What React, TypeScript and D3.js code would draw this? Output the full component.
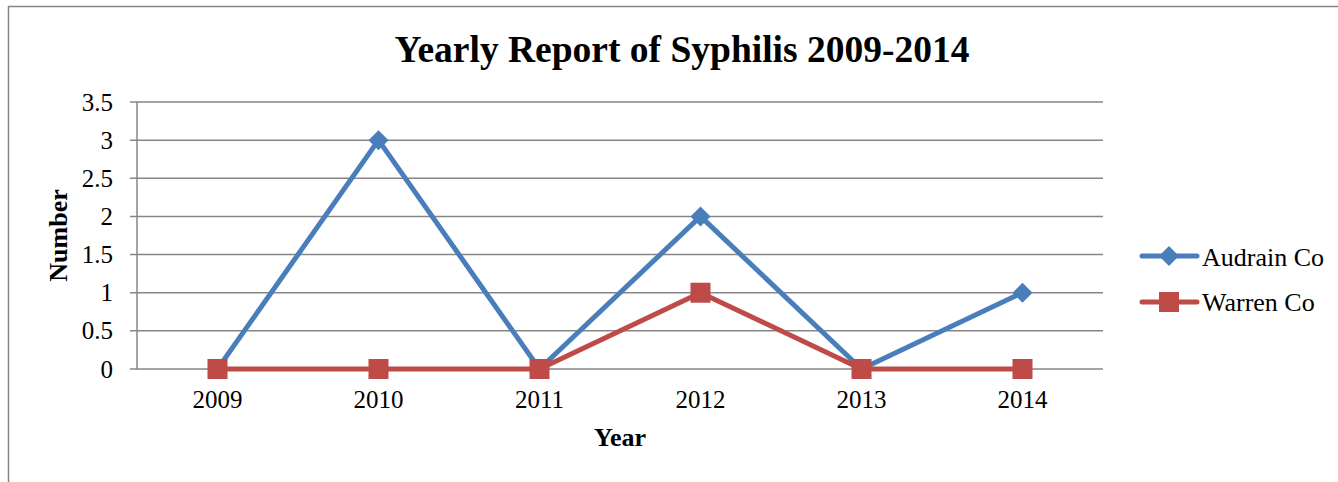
import React from "react";
import * as d3 from "d3";

const years = ["2009", "2010", "2011", "2012", "2013", "2014"];
const audrain = [0, 3, 0, 2, 0, 1];
const warren = [0, 0, 0, 1, 0, 0];
const yTicks = [0, 0.5, 1, 1.5, 2, 2.5, 3, 3.5];
const yTickLabels = ["0", "0.5", "1", "1.5", "2", "2.5", "3", "3.5"];

const BLUE = "#4a7ebb";
const RED = "#be4b48";
const GRID = "#868686";
const FONT = "'Liberation Serif', 'Times New Roman', serif";

export default function App() {
  const W = 1338, H = 482;
  const left = 137, right = 1103, top = 102, bottom = 369;
  const x = d3.scaleBand<string>().domain(years).range([left, right]);
  const y = d3.scaleLinear().domain([0, 3.5]).range([bottom, top]);
  const cx = (d: string) => (x(d) as number) + x.bandwidth() / 2;
  const line = d3.line<number>().x((_, i) => cx(years[i])).y((v) => y(v));

  const diamond = (px: number, py: number, r: number) =>
    `M${px},${py - r}L${px + r},${py}L${px},${py + r}L${px - r},${py}Z`;

  return (
    <svg width={W} height={H} style={{ position: "absolute", left: 0, top: 0 }} fontFamily={FONT}>
      <rect x={0} y={0} width={W} height={H} fill="#fff" />
      <path d={`M8.5,${H}V6.5H${W}`} fill="none" stroke={GRID} strokeWidth={1.5} />
      <text x={682} y={62} textAnchor="middle" fontSize={37.5} fontWeight="bold">
        Yearly Report of Syphilis 2009-2014
      </text>
      {yTicks.map((t, i) => (
        <g key={t}>
          <line x1={left - 7} x2={right} y1={y(t)} y2={y(t)} stroke={GRID} strokeWidth={1.5} />
          <text x={left - 24} y={y(t) + 8.5} textAnchor="end" fontSize={25}>
            {yTickLabels[i]}
          </text>
        </g>
      ))}
      <line x1={left} x2={left} y1={top} y2={bottom} stroke={GRID} strokeWidth={1.5} />
      {years.map((yr) => (
        <text key={yr} x={cx(yr)} y={408} textAnchor="middle" fontSize={25}>
          {yr}
        </text>
      ))}
      <text x={620} y={446} textAnchor="middle" fontSize={26} fontWeight="bold">Year</text>
      <text transform={`translate(67,${y(1.75)}) rotate(-90)`} textAnchor="middle" fontSize={26} fontWeight="bold">
        Number
      </text>
      <path d={line(audrain) || ""} fill="none" stroke={BLUE} strokeWidth={5} strokeLinejoin="round" />
      {audrain.map((v, i) => (
        <path key={"a" + i} d={diamond(cx(years[i]), y(v), 10)} fill={BLUE} />
      ))}
      <path d={line(warren) || ""} fill="none" stroke={RED} strokeWidth={5} strokeLinejoin="round" />
      {warren.map((v, i) => (
        <rect key={"w" + i} x={cx(years[i]) - 10} y={y(v) - 10} width={20} height={20} fill={RED} />
      ))}
      <g>
        <line x1={1142} x2={1197} y1={256} y2={256} stroke={BLUE} strokeWidth={5} strokeLinecap="round" />
        <path d={diamond(1169, 256, 10)} fill={BLUE} />
        <text x={1202} y={266} fontSize={26}>Audrain Co</text>
        <line x1={1142} x2={1197} y1={302} y2={302} stroke={RED} strokeWidth={5} strokeLinecap="round" />
        <rect x={1159} y={292} width={20} height={20} fill={RED} />
        <text x={1202} y={311} fontSize={26}>Warren Co</text>
      </g>
    </svg>
  );
}
